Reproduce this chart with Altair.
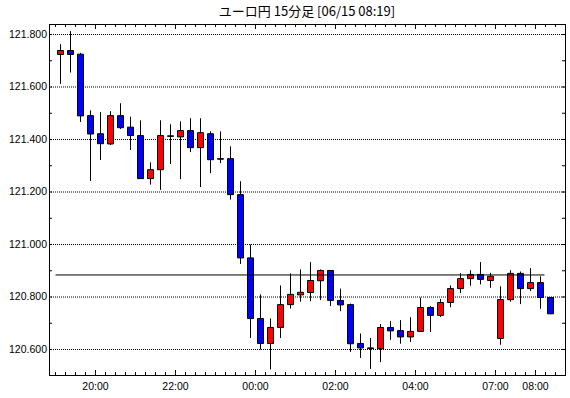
import altair as alt
import pandas as pd

# ---- data (EUR/JPY 15-minute candles) ----
opens = [121.724, 121.739, 121.725, 121.491, 121.422, 121.383, 121.491, 121.447, 121.415, 121.251,
         121.285, 121.414, 121.410, 121.434, 121.369, 121.422, 121.327, 121.327, 121.190, 120.949,
         120.718, 120.623, 120.684, 120.771, 120.808, 120.817, 120.862, 120.901, 120.787, 120.771,
         120.623, 120.606, 120.603, 120.684, 120.672, 120.648, 120.669, 120.760, 120.730, 120.779,
         120.832, 120.870, 120.886, 120.863, 120.642, 120.790, 120.890, 120.832, 120.855, 120.798]
highs = [121.763, 121.813, 121.730, 121.511, 121.504, 121.508, 121.538, 121.487, 121.473, 121.313,
         121.473, 121.458, 121.469, 121.481, 121.481, 121.431, 121.431, 121.374, 121.241, 121.000,
         120.810, 120.718, 120.844, 120.890, 120.905, 120.933, 120.905, 120.901, 120.832, 120.775,
         120.661, 120.644, 120.697, 120.708, 120.712, 120.723, 120.798, 120.765, 120.793, 120.844,
         120.891, 120.902, 120.933, 120.892, 120.841, 120.902, 120.897, 120.910, 120.879, 120.798]
lows = [121.612, 121.655, 121.467, 121.242, 121.322, 121.379, 121.440, 121.360, 121.251, 121.228,
        121.208, 121.307, 121.249, 121.352, 121.219, 121.272, 121.310, 121.171, 120.926, 120.644,
        120.600, 120.524, 120.644, 120.756, 120.782, 120.784, 120.789, 120.766, 120.746, 120.591,
        120.568, 120.526, 120.552, 120.637, 120.622, 120.629, 120.669, 120.667, 120.724, 120.761,
        120.815, 120.843, 120.848, 120.835, 120.618, 120.782, 120.773, 120.823, 120.755, 120.736]
closes = [121.739, 121.724, 121.490, 121.421, 121.384, 121.491, 121.445, 121.415, 121.251, 121.285,
          121.415, 121.412, 121.434, 121.369, 121.426, 121.323, 121.325, 121.190, 120.949, 120.718,
          120.623, 120.684, 120.771, 120.810, 120.818, 120.863, 120.901, 120.787, 120.770, 120.622,
          120.606, 120.604, 120.684, 120.671, 120.648, 120.669, 120.760, 120.730, 120.779, 120.832,
          120.870, 120.886, 120.867, 120.879, 120.790, 120.890, 120.832, 120.855, 120.798, 120.736]

label_idx = [4, 12, 20, 28, 36, 44, 48]
label_text = ["20:00", "22:00", "00:00", "02:00", "04:00", "07:00", "08:00"]
y_major = [120.6, 120.8, 121.0, 121.2, 121.4, 121.6, 121.8]
y_all = [120.6, 120.7, 120.8, 120.9, 121.0, 121.1, 121.2, 121.3, 121.4, 121.5, 121.6, 121.7, 121.8]
current_price = 120.884
current_from = 0
current_to = 48.9
title_text = "ユーロ円 15分足 [06/15 08:19]"

n = len(opens)
df = pd.DataFrame({
    "i": [k + 0.5 for k in range(n)],
    "open": opens, "high": highs, "low": lows, "close": closes,
    "dir": ["up" if c > o else "down" for o, c in zip(opens, closes)],
})
ticks_df = pd.DataFrame({"t": list(range(0, 52))})
ticks_df["major"] = ticks_df["t"].isin(label_idx)
yt_df = pd.DataFrame({"v": y_all})
ymaj_df = pd.DataFrame({"v": y_major, "lab": [f"{v:.3f}" for v in y_major]})
xlab_df = pd.DataFrame({"t": label_idx, "lab": label_text})
cur_df = pd.DataFrame({"a": [current_from], "b": [current_to], "p": [current_price]})
one_df = pd.DataFrame({"k": [0]})

FONT = "Liberation Sans"
W, H = 516, 351

xscale = alt.Scale(domain=[-0.65, 50.95], nice=False, zero=False, padding=0)
yscale = alt.Scale(domain=[120.5029, 121.84], nice=False, zero=False, padding=0)

X = lambda f: alt.X(f, scale=xscale, axis=None)
Y = lambda f: alt.Y(f, scale=yscale, axis=None)

base = alt.Chart(df)

grid = alt.Chart(ymaj_df).mark_rule(color="black", strokeDash=[1, 1], strokeWidth=1).encode(
    y=Y("v:Q"), x=alt.value(0), x2=alt.value(W))

wicks = base.mark_rule(color="black", strokeWidth=1).encode(
    x=X("i:Q"), y=Y("low:Q"), y2="high:Q")
bodies = base.mark_bar(size=6, stroke="black", strokeWidth=1).encode(
    x=X("i:Q"), y=Y("open:Q"), y2="close:Q",
    color=alt.Color("dir:N", scale=alt.Scale(domain=["up", "down"], range=["#ff0000", "#0000ff"]),
                    legend=None),
)
cur_line = alt.Chart(cur_df).mark_rule(color="black", strokeWidth=1).encode(
    x=X("a:Q"), x2="b:Q", y=Y("p:Q"))

tk = alt.Chart(ticks_df)
top_minor = tk.transform_filter("!datum.major").mark_rule(color="black").encode(
    x=X("t:Q"), y=alt.value(0), y2=alt.value(3))
top_major = tk.transform_filter("datum.major").mark_rule(color="black").encode(
    x=X("t:Q"), y=alt.value(0), y2=alt.value(5))
bot_minor = tk.transform_filter("!datum.major").mark_rule(color="black").encode(
    x=X("t:Q"), y=alt.value(H), y2=alt.value(H - 3))
bot_major = tk.transform_filter("datum.major").mark_rule(color="black").encode(
    x=X("t:Q"), y=alt.value(H), y2=alt.value(H - 5))

yt = alt.Chart(yt_df)
left_ticks = yt.mark_rule(color="black").encode(y=Y("v:Q"), x=alt.value(0), x2=alt.value(3))
right_ticks = yt.mark_rule(color="black").encode(y=Y("v:Q"), x=alt.value(W), x2=alt.value(W - 3))

ylabels = alt.Chart(ymaj_df).mark_text(font=FONT, fontSize=10.5, align="right", baseline="middle",
                                       color="black").encode(
    y=Y("v:Q"), x=alt.value(-2), text="lab:N")
xlabels = alt.Chart(xlab_df).mark_text(font=FONT, fontSize=10.5, align="center", baseline="top",
                                       color="black").encode(
    x=X("t:Q"), y=alt.value(H + 7), text="lab:N")

fr = alt.Chart(one_df)
frame_top = fr.mark_rule(color="black").encode(x=alt.value(0), x2=alt.value(W + 1), y=alt.value(0.5))
frame_bot = fr.mark_rule(color="black").encode(x=alt.value(0), x2=alt.value(W + 1), y=alt.value(H + 0.5))
frame_left = fr.mark_rule(color="black").encode(x=alt.value(0.5), y=alt.value(0), y2=alt.value(H + 1))
frame_right = fr.mark_rule(color="black").encode(x=alt.value(W + 0.5), y=alt.value(0), y2=alt.value(H + 1))

chart = alt.layer(
    grid, wicks, bodies, cur_line, top_minor, top_major, bot_minor, bot_major,
    left_ticks, right_ticks, ylabels, xlabels, frame_top, frame_bot, frame_left, frame_right
).properties(
    width=W, height=H,
    title=alt.TitleParams(title_text, font="Noto Sans CJK JP", fontSize=13, fontWeight="normal",
                          color="black", anchor="middle", offset=5),
    padding={"left": 49, "top": 24, "right": 5, "bottom": 23},
    autosize=alt.AutoSizeParams(type="none"),
).configure_view(stroke=None).configure(background="white")

chart.save("out.html", embed_options={"renderer": "svg", "actions": False})
